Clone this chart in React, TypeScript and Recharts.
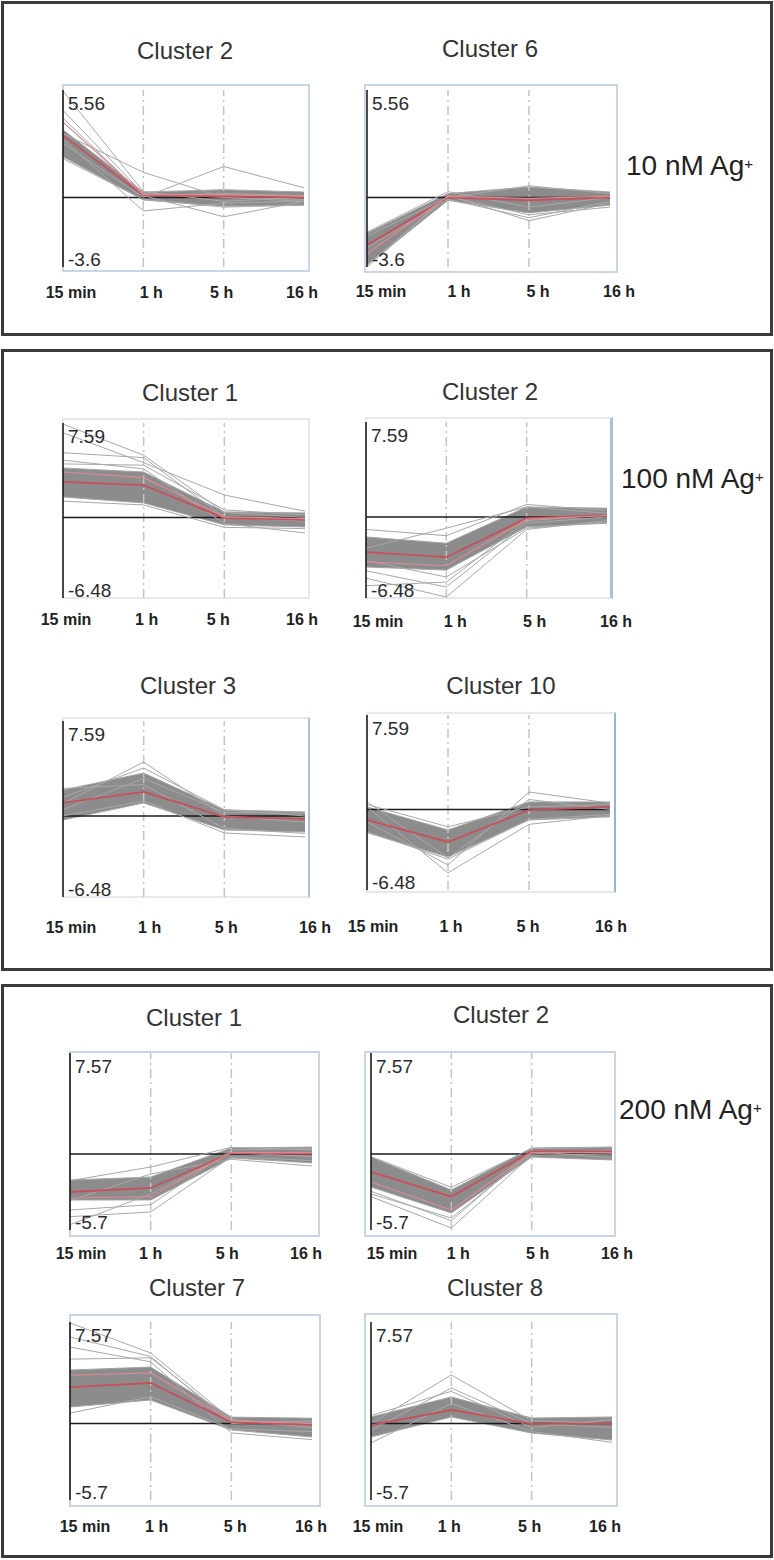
import React from "react";
import { ComposedChart, Area, Line, XAxis, YAxis, ReferenceLine } from "recharts";

const FONT = "'Liberation Sans', Arial, sans-serif";

const times = ["15 min", "1 h", "5 h", "16 h"];

// y-axis limits for each treatment
const range10 = [-3.6, 5.56];
const range100 = [-6.48, 7.59];
const range200 = [-5.7, 7.57];

// 10 nM Ag+, Cluster 2
const ag10c2Band = [[2.1, 3.5], [-0.13, 0.28], [-0.45, 0.4], [-0.4, 0.28]];
const ag10c2Lines = [
  [5.5, 0.3, -0.2, 0.0],
  [4.5, 0.2, 0.0, -0.1],
  [4.1, 0.1, 0.2, 0.1],
  [3.3, 1.3, 0.0, -0.2],
  [3.0, -0.7, -0.3, -0.2],
  [2.8, 0.0, 1.6, 0.5],
  [3.2, 0.1, -1.0, -0.2],
  [2.0, -0.1, -0.5, -0.4],
];
const ag10c2Means = [[3.2, 0.12, 0.05, 0.0], [3.9, 0.15, 0.15, 0.05]];

// 10 nM Ag+, Cluster 6
const ag10c6Band = [[-3.5, -1.85], [-0.15, 0.2], [-0.8, 0.54], [-0.4, 0.28]];
const ag10c6Lines = [
  [-3.5, 0.1, -1.2, -0.3],
  [-2.0, 0.0, 0.6, 0.2],
  [-3.6, 0.05, -0.9, -0.5],
  [-1.8, 0.3, -0.5, 0.0],
  [-2.6, -0.1, -1.05, -0.2],
];
const ag10c6Means = [[-2.46, 0.0, -0.15, 0.0], [-2.9, 0.05, -0.05, 0.05]];

// 100 nM Ag+, Cluster 1
const ag100c1Band = [[1.64, 3.97], [1.16, 3.65], [-0.6, 0.44], [-0.77, 0.36]];
const ag100c1Lines = [
  [7.5, 5.0, 0.4, 0.0],
  [6.8, 4.4, 1.8, 0.5],
  [5.2, 4.8, 0.0, -0.3],
  [4.6, 3.9, -0.5, -1.25],
  [1.3, 1.0, -0.8, -0.9],
  [4.3, 4.2, 0.6, 0.2],
];
const ag100c1Means = [[2.85, 2.6, -0.05, -0.2], [3.65, 3.2, 0.05, -0.1]];

// 100 nM Ag+, Cluster 2
const ag100c2Band = [[-4.0, -1.6], [-4.25, -2.1], [-0.8, 0.8], [-0.5, 0.7]];
const ag100c2Lines = [
  [-4.9, -6.4, -1.0, -0.3],
  [-4.3, -5.6, -0.5, 0.0],
  [-2.5, -0.9, 0.8, 0.3],
  [-1.0, -1.5, 1.0, 0.5],
  [-3.5, -4.8, -0.9, -0.4],
  [-5.5, -5.2, -0.3, 0.2],
];
const ag100c2Means = [[-2.81, -3.21, -0.09, 0.15], [-3.6, -3.9, -0.2, 0.1]];

// 100 nM Ag+, Cluster 3
const ag100c3Band = [[-0.32, 2.07], [1.04, 3.43], [-1.12, 0.48], [-1.28, 0.32]];
const ag100c3Lines = [
  [1.0, 4.31, 0.0, -0.5],
  [1.5, 3.83, 0.5, 0.0],
  [0.0, 1.2, -1.36, -1.68],
  [2.2, 2.5, -1.0, -1.4],
  [0.5, 3.0, 0.3, 0.2],
];
const ag100c3Means = [[1.04, 1.92, -0.08, -0.24]];

// 100 nM Ag+, Cluster 10
const ag100c10Band = [[-1.87, 0.2], [-3.83, -1.65], [-0.85, 0.6], [-0.6, 0.6]];
const ag100c10Lines = [
  [0.2, -5.1, -1.2, -0.5],
  [-1.0, -4.47, 1.4, 0.5],
  [0.6, -3.9, 0.8, 0.0],
  [-1.8, -4.0, -0.8, -0.4],
  [0.4, -1.4, 0.2, 0.4],
];
const ag100c10Means = [[-0.85, -2.62, -0.05, 0.2]];

// 200 nM Ag+, Cluster 1
const ag200c1Band = [[-3.45, -1.95], [-3.45, -1.73], [-0.3, 0.45], [-0.67, 0.52]];
const ag200c1Lines = [
  [-4.7, -4.35, -0.2, -0.5],
  [-4.2, -3.8, 0.3, 0.4],
  [-2.0, -0.98, 0.5, 0.3],
  [-3.5, -1.5, -0.4, -0.9],
  [-5.3, -3.0, 0.1, -0.2],
];
const ag200c1Means = [[-2.85, -2.55, 0.07, 0.0], [-3.3, -3.2, 0.1, 0.1]];

// 200 nM Ag+, Cluster 2
const ag200c2Band = [[-2.48, -0.23], [-4.42, -2.7], [-0.23, 0.45], [-0.45, 0.52]];
const ag200c2Lines = [
  [-3.2, -5.55, -0.1, 0.0],
  [-2.8, -5.0, 0.2, -0.3],
  [-0.2, -2.5, 0.4, 0.5],
  [-3.0, -4.8, 0.0, 0.3],
];
const ag200c2Means = [[-1.35, -3.2, 0.2, 0.2], [-2.1, -4.2, 0.1, 0.1]];

// 200 nM Ag+, Cluster 7
const ag200c7Band = [[1.23, 3.99], [1.75, 4.21], [-0.48, 0.48], [-1.0, 0.4]];
const ag200c7Lines = [
  [7.5, 5.26, 0.3, -0.3],
  [6.45, 5.0, 0.0, 0.2],
  [5.7, 4.6, -0.7, -1.2],
  [0.78, 2.0, -0.4, -0.6],
  [4.8, 4.9, 0.2, 0.1],
];
const ag200c7Means = [[2.72, 3.02, 0.1, -0.1], [3.6, 3.77, 0.2, 0.0]];

// 200 nM Ag+, Cluster 8
const ag200c8Band = [[-1.0, 0.49], [0.49, 1.98], [-0.71, 0.41], [-1.23, 0.49]];
const ag200c8Lines = [
  [0.0, 3.62, 0.2, 0.0],
  [-0.5, 2.65, 0.0, -0.3],
  [-1.45, 1.5, -0.6, -1.4],
  [0.6, 2.4, -0.3, 0.3],
];
const ag200c8Means = [[-0.11, 1.01, -0.03, 0.0]];

const doses = ["10 nM Ag", "100 nM Ag", "200 nM Ag"];

const ML = 40;
const MR = 30;
const MT = 12;
const AXH = 50;

function buildRows(band: number[][], lines: number[][], means: number[][]) {
  return times.map((_, i) => {
    const row: Record<string, any> = { t: i, band: band[i] };
    lines.forEach((l, j) => (row[`g${j}`] = l[i]));
    means.forEach((m, j) => (row[`m${j}`] = m[i]));
    return row;
  });
}

function ClusterChart(props: any) {
  const { title, range, band, lines, means, lay } = props;
  const rows = buildRows(band, lines, means);
  const [lo, hi] = range;
  const w = lay.R - lay.L + ML + MR;
  const h = lay.B - lay.T + MT + AXH;
  const [bx, by, bw, bh] = lay.box;
  return (
    <>
      <div
        style={{
          position: "absolute",
          left: bx,
          top: by,
          width: bw,
          height: bh,
          boxSizing: "border-box",
          border: `2px solid ${lay.edge}`,
          borderRight: `${lay.rw || 2}px solid ${lay.rc || lay.edge}`,
        }}
      />
      <div
        style={{
          position: "absolute",
          left: lay.tx - 100,
          top: lay.ty - 22,
          width: 200,
          textAlign: "center",
          fontFamily: FONT,
          fontSize: 24,
          lineHeight: "24px",
          color: "#333",
        }}
      >
        {title}
      </div>
      <div style={{ position: "absolute", left: lay.L - ML, top: lay.T - MT }}>
        <ComposedChart
          width={w}
          height={h}
          data={rows}
          margin={{ top: MT, right: MR, bottom: 0, left: ML }}
        >
          <XAxis
            type="number"
            dataKey="t"
            domain={[0, 3]}
            ticks={[0, 1, 2, 3]}
            interval={0}
            axisLine={false}
            tickLine={false}
            tickSize={0}
            tickMargin={0}
            height={AXH}
            tick={(p: any) => (
              <text
                x={p.x + lay.dx[p.payload.value]}
                y={p.y + lay.dy}
                textAnchor="middle"
                fontFamily={FONT}
                fontSize={16}
                fontWeight="bold"
                fill="#222"
              >
                {times[p.payload.value]}
              </text>
            )}
          />
          <ReferenceLine x={1} stroke="#c4c4c4" strokeWidth={1.5} strokeDasharray="9 4 2 4" />
          <ReferenceLine x={2} stroke="#c4c4c4" strokeWidth={1.5} strokeDasharray="9 4 2 4" />
          <ReferenceLine y={0} stroke="#1a1a1a" strokeWidth={1.5} />
          <Area
            dataKey="band"
            type="linear"
            fill="#8c8c8c"
            fillOpacity={1}
            stroke="#a4a4a4"
            strokeWidth={1}
            isAnimationActive={false}
          />
          {lines.map((_: any, j: number) => (
            <Line
              key={`g${j}`}
              dataKey={`g${j}`}
              type="linear"
              stroke="#a8a8a8"
              strokeWidth={1}
              dot={false}
              isAnimationActive={false}
            />
          ))}
          {means.map((_: any, j: number) => (
            <Line
              key={`m${j}`}
              dataKey={`m${j}`}
              type="linear"
              stroke={j === 0 ? "#c8505a" : "#d98a92"}
              strokeWidth={j === 0 ? 1.8 : 1.2}
              dot={false}
              isAnimationActive={false}
            />
          ))}
          <YAxis
            type="number"
            domain={[lo, hi]}
            ticks={[lo, hi]}
            allowDataOverflow
            mirror
            width={40}
            tickSize={0}
            tickMargin={0}
            tickLine={false}
            axisLine={{ stroke: "#111", strokeWidth: 1.5 }}
            tick={(p: any) => (
              <text
                x={p.x + 5}
                y={p.payload.value === hi ? p.y + 20 : p.y - 1}
                textAnchor="start"
                fontFamily={FONT}
                fontSize={19}
                fill="#2b2b2b"
              >
                {p.payload.value}
              </text>
            )}
          />
        </ComposedChart>
      </div>
    </>
  );
}

const faint = "#e4e9f0";
const light = "#c9d5e4";
const blue = "#a9c0dc";

const layouts = {
  a: { L: 63, R: 304, T: 90, B: 267, box: [62, 84, 248, 188], edge: light, dx: [8, 8, -2, -2], dy: 31, tx: 185, ty: 61 },
  b: { L: 367, R: 610, T: 90, B: 267, box: [364, 84, 254, 189], edge: light, dx: [14, 11, 9, 9], dy: 30, tx: 490, ty: 59 },
  c: { L: 63, R: 305, T: 423, B: 598, box: [62, 418, 248, 181], edge: faint, dx: [3, 3, -6, -3], dy: 27, tx: 190, ty: 403 },
  d: { L: 366, R: 607, T: 422, B: 598, box: [365, 417, 248, 182], edge: faint, rc: blue, rw: 3, dx: [12, 9, 8, 9], dy: 29, tx: 490, ty: 402 },
  e: { L: 63, R: 305, T: 721, B: 897, box: [62, 717, 248, 181], edge: faint, rc: blue, rw: 2, dx: [8, 6, 2, 10], dy: 36, tx: 188, ty: 696 },
  f: { L: 367, R: 610, T: 715, B: 890, box: [366, 712, 250, 181], edge: faint, rc: "#94b3d8", rw: 2, dx: [6, 3, -1, 1], dy: 42, tx: 501, ty: 696 },
  g: { L: 70, R: 312, T: 1053, B: 1230, box: [69, 1051, 251, 186], edge: light, dx: [11, 0, -4, -6], dy: 29, tx: 194, ty: 1028 },
  h: { L: 371, R: 612, T: 1053, B: 1230, box: [364, 1051, 252, 186], edge: light, dx: [21, 7, 6, 5], dy: 29, tx: 501, ty: 1025 },
  i: { L: 70, R: 312, T: 1322, B: 1500, box: [69, 1314, 252, 193], edge: light, dx: [15, 6, 4, -1], dy: 32, tx: 197, ty: 1298 },
  j: { L: 371, R: 612, T: 1322, B: 1500, box: [364, 1313, 254, 194], edge: light, dx: [7, -2, -2, -7], dy: 32, tx: 495, ty: 1298 },
};

function Panel({ top, height }: { top: number; height: number }) {
  return (
    <div
      style={{
        position: "absolute",
        left: 1,
        top,
        width: 772,
        height,
        boxSizing: "border-box",
        border: "3px solid #3a3a3a",
      }}
    />
  );
}

function DoseLabel({ x, y, text }: { x: number; y: number; text: string }) {
  return (
    <div
      style={{
        position: "absolute",
        left: x,
        top: y - 24,
        fontFamily: FONT,
        fontSize: 28,
        lineHeight: "28px",
        color: "#222",
        whiteSpace: "nowrap",
      }}
    >
      {text}
      <sup style={{ fontSize: 15, verticalAlign: "top", position: "relative", top: -2 }}>+</sup>
    </div>
  );
}

export default function App() {
  return (
    <div
      style={{
        position: "absolute",
        left: 0,
        top: 0,
        width: 774,
        height: 1560,
        background: "#fff",
        overflow: "hidden",
      }}
    >
      <Panel top={1} height={335} />
      <Panel top={349} height={622} />
      <Panel top={984} height={574} />

      <ClusterChart title="Cluster 2" range={range10} band={ag10c2Band} lines={ag10c2Lines} means={ag10c2Means} lay={layouts.a} />
      <ClusterChart title="Cluster 6" range={range10} band={ag10c6Band} lines={ag10c6Lines} means={ag10c6Means} lay={layouts.b} />
      <DoseLabel x={626} y={176} text={doses[0]} />

      <ClusterChart title="Cluster 1" range={range100} band={ag100c1Band} lines={ag100c1Lines} means={ag100c1Means} lay={layouts.c} />
      <ClusterChart title="Cluster 2" range={range100} band={ag100c2Band} lines={ag100c2Lines} means={ag100c2Means} lay={layouts.d} />
      <ClusterChart title="Cluster 3" range={range100} band={ag100c3Band} lines={ag100c3Lines} means={ag100c3Means} lay={layouts.e} />
      <ClusterChart title="Cluster 10" range={range100} band={ag100c10Band} lines={ag100c10Lines} means={ag100c10Means} lay={layouts.f} />
      <DoseLabel x={621} y={489} text={doses[1]} />

      <ClusterChart title="Cluster 1" range={range200} band={ag200c1Band} lines={ag200c1Lines} means={ag200c1Means} lay={layouts.g} />
      <ClusterChart title="Cluster 2" range={range200} band={ag200c2Band} lines={ag200c2Lines} means={ag200c2Means} lay={layouts.h} />
      <ClusterChart title="Cluster 7" range={range200} band={ag200c7Band} lines={ag200c7Lines} means={ag200c7Means} lay={layouts.i} />
      <ClusterChart title="Cluster 8" range={range200} band={ag200c8Band} lines={ag200c8Lines} means={ag200c8Means} lay={layouts.j} />
      <DoseLabel x={619} y={1120} text={doses[2]} />
    </div>
  );
}
